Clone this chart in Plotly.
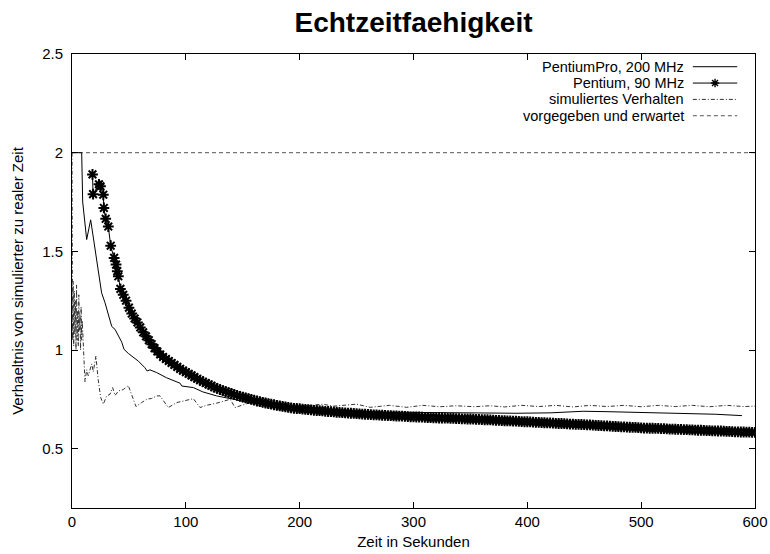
import plotly.graph_objects as go

# ---- data ----
pro_x = [0, 8.5, 9.4, 12.9, 16.4, 20.2, 24, 26, 29, 33.4, 34.9, 37.8, 43.7, 45.7, 49.5, 58.3, 64, 66,
         68.5, 74.4, 80.2, 83, 95, 96.4, 106.6, 115, 127, 139, 150, 160, 175, 190, 205, 220, 235, 250,
         265, 280, 303, 330, 360, 390, 420, 435, 449, 470, 508, 540, 565, 588.5]
pro_y = [2.0, 2.0, 1.75, 1.56, 1.66, 1.51, 1.35, 1.29, 1.24, 1.155, 1.12, 1.105, 1.04, 1.004, 0.983, 0.944,
         0.911, 0.894, 0.90, 0.886, 0.869, 0.86, 0.832, 0.818, 0.81, 0.788, 0.768, 0.755, 0.74, 0.73, 0.72,
         0.71, 0.702, 0.697, 0.692, 0.689, 0.686, 0.685, 0.684, 0.682, 0.68, 0.68, 0.682, 0.686, 0.69, 0.688,
         0.684, 0.68, 0.675, 0.668]

# Pentium 90 MHz: sparse start, then one sample every 2.5 s from 42.5 s
pen_x_start = [18, 18.5, 23.7, 25, 27.5, 28, 29.6, 31.9, 34, 37, 38.7, 39.8, 40.7]
pen_y_start = [1.89, 1.79, 1.84, 1.83, 1.787, 1.72, 1.665, 1.626, 1.529, 1.467, 1.433, 1.40, 1.374]
pen_y_dense = [
    1.31, 1.28, 1.25, 1.215, 1.185, 1.16, 1.14, 1.115, 1.09, 1.07,
    1.05, 1.03, 1.01, 0.993, 0.978, 0.965, 0.955, 0.945, 0.935, 0.925,
    0.915, 0.905, 0.896, 0.888, 0.88, 0.872, 0.863, 0.855, 0.847, 0.84,
    0.833, 0.826, 0.819, 0.812, 0.806, 0.80, 0.795, 0.79, 0.785, 0.78,
    0.775, 0.771, 0.766, 0.762, 0.758, 0.754, 0.75, 0.746, 0.742, 0.739,
    0.735, 0.732, 0.729, 0.726, 0.723, 0.72, 0.717, 0.715, 0.712, 0.71,
    0.707, 0.705, 0.704, 0.703,
    0.701, 0.700, 0.698, 0.697, 0.695, 0.694, 0.693, 0.692, 0.690, 0.689,
    0.688, 0.687, 0.685, 0.684, 0.683, 0.682, 0.681, 0.680, 0.679, 0.678,
    0.677, 0.676, 0.675, 0.674, 0.673, 0.672, 0.672, 0.671, 0.670, 0.669,
    0.668, 0.668, 0.667, 0.666, 0.665, 0.665, 0.664, 0.663, 0.662, 0.662,
    0.661, 0.661, 0.660, 0.659, 0.658, 0.658, 0.657, 0.657, 0.656, 0.656,
    0.655, 0.655, 0.654, 0.654, 0.653, 0.653, 0.652, 0.652, 0.651, 0.651,
    0.650, 0.649, 0.649, 0.648, 0.647, 0.647, 0.646, 0.645, 0.644, 0.644,
    0.643, 0.642, 0.641, 0.641, 0.640, 0.640, 0.639, 0.638, 0.637, 0.637,
    0.636, 0.635, 0.634, 0.634, 0.633, 0.632, 0.631, 0.631, 0.630, 0.629,
    0.628, 0.628, 0.627, 0.626, 0.625, 0.625, 0.624, 0.624, 0.623, 0.622,
    0.621, 0.621, 0.620, 0.619, 0.618, 0.617, 0.616, 0.616, 0.615, 0.614,
    0.613, 0.612, 0.611, 0.611, 0.610, 0.609, 0.608, 0.608, 0.607, 0.606,
    0.605, 0.605, 0.604, 0.604, 0.603, 0.603, 0.602, 0.602, 0.601, 0.600,
    0.600, 0.599, 0.598, 0.598, 0.597, 0.597, 0.596, 0.596, 0.595, 0.594,
    0.594, 0.593, 0.592, 0.592, 0.591, 0.591, 0.590, 0.590, 0.589, 0.588,
    0.588, 0.587, 0.586, 0.586, 0.585, 0.585, 0.584, 0.584, 0.583, 0.583,
]
pen_x_dense = [42.5 + 2.5 * i for i in range(len(pen_y_dense))]
pen_x = pen_x_start + pen_x_dense
pen_y = pen_y_start + pen_y_dense

sim_x = [0, 0.5, 1, 1.5, 2, 2.5, 3, 3.5, 4, 4.5, 5, 5.5, 6, 6.5, 7, 7.5, 8, 8.5, 9, 9.5, 10,
         11.4, 12.9, 14.3, 17.3, 18.7, 21, 23, 25.2, 27.5, 30.5, 33.4, 35.7, 37.8, 40.8, 45, 49.5, 56.2,
         61.2, 65.6, 70, 74.4, 77.3, 84.6, 92, 100, 106.6, 112.5, 118, 127, 139, 143.2, 150, 156.4, 166,
         175, 185, 195, 205, 220, 230, 240, 250, 262, 279, 294, 308, 323, 337, 354, 367, 380, 395, 410,
         425, 440, 455, 470, 485, 500, 515, 530, 545, 560, 575, 590, 600]
sim_y = [2.0, 1.05, 1.35, 1.02, 1.3, 1.08, 1.25, 1.0, 1.33, 1.05, 1.2, 1.02, 1.28, 1.1, 1.18, 1.0, 1.22,
         1.05, 1.15, 1.08, 1.0,
         0.84, 0.90, 0.87, 0.93, 0.89, 0.97, 0.85, 0.76, 0.726, 0.768, 0.776, 0.81, 0.77, 0.793, 0.80, 0.82,
         0.714, 0.734, 0.751, 0.755, 0.768, 0.768, 0.709, 0.734, 0.745, 0.754, 0.709, 0.72, 0.731, 0.751,
         0.709, 0.72, 0.734, 0.745, 0.71, 0.705, 0.71, 0.715, 0.726, 0.716, 0.722, 0.726, 0.71, 0.72, 0.71,
         0.72, 0.713, 0.718, 0.713, 0.718, 0.712, 0.72, 0.714, 0.72, 0.712, 0.72, 0.714, 0.72, 0.713, 0.72,
         0.714, 0.72, 0.713, 0.72, 0.714, 0.716]

ref_x = [0, 600]
ref_y = [2.0, 2.0]

labels = ["PentiumPro, 200 MHz", "Pentium, 90 MHz", "simuliertes Verhalten", "vorgegeben und erwartet"]

FONT = "Liberation Sans, Arial, sans-serif"
FS = 15
LEG_FS = 14.5
SIM_DASH = "4px,2px,1px,2px"
REF_DASH = "4px,3px"

fig = go.Figure()
fig.add_trace(go.Scatter(x=ref_x, y=ref_y, mode="lines",
                         line=dict(color="#555555", width=1, dash=REF_DASH), showlegend=False))
fig.add_trace(go.Scatter(x=sim_x, y=sim_y, mode="lines",
                         line=dict(color="#333333", width=1, dash=SIM_DASH), showlegend=False))
fig.add_trace(go.Scatter(x=pro_x, y=pro_y, mode="lines",
                         line=dict(color="black", width=1), showlegend=False))
fig.add_trace(go.Scatter(x=pen_x, y=pen_y, mode="lines+markers",
                         line=dict(color="black", width=1),
                         marker=dict(symbol="asterisk-open", size=9, color="black",
                                     line=dict(color="black", width=2)),
                         showlegend=False))

# ---- custom legend (text left of sample, as in the original) ----
leg_rows = [0.972, 0.936, 0.900, 0.864]
x0, x1 = 0.909, 0.974
styles = [dict(color="black", width=1), dict(color="black", width=1),
          dict(color="#333333", width=1, dash=SIM_DASH), dict(color="#555555", width=1, dash=REF_DASH)]
for i, (lab, yy) in enumerate(zip(labels, leg_rows)):
    fig.add_trace(go.Scatter(x=[x0, x1], y=[yy, yy], xaxis="x2", yaxis="y2", mode="lines",
                             line=styles[i], showlegend=False, hoverinfo="skip"))
    fig.add_annotation(x=0.897, y=yy, xref="x2", yref="y2", text=lab, showarrow=False,
                       xanchor="right", yanchor="middle", borderpad=0,
                       font=dict(family=FONT, size=LEG_FS, color="black"))
fig.add_trace(go.Scatter(x=[(x0 + x1) / 2], y=[leg_rows[1]], xaxis="x2", yaxis="y2", mode="markers",
                         marker=dict(symbol="asterisk-open", size=7, color="black",
                                     line=dict(color="black", width=1.4)),
                         showlegend=False, hoverinfo="skip"))

axis_common = dict(showline=True, linecolor="black", linewidth=1, mirror="ticks", ticks="inside",
                   ticklen=6, tickcolor="black", showgrid=False, zeroline=False, automargin=False,
                   tickfont=dict(family=FONT, size=FS, color="black"))

fig.update_layout(
    width=770, height=554,
    margin=dict(l=72, r=15, t=54, b=46),
    paper_bgcolor="white", plot_bgcolor="white",
    title=dict(text="<b>Echtzeitfaehigkeit</b>", x=0.537, xanchor="center", y=0.96, yanchor="middle",
               font=dict(family=FONT, size=28, color="black")),
    xaxis=dict(range=[0, 600], tick0=0, dtick=100, ticklabelstandoff=0,
               title=dict(text="Zeit in Sekunden", font=dict(family=FONT, size=FS, color="black"), standoff=7),
               **axis_common),
    yaxis=dict(range=[0.2, 2.5], tick0=0.5, dtick=0.5, ticklabelstandoff=5,
               title=dict(text="Verhaeltnis von simulierter zu realer Zeit",
                          font=dict(family=FONT, size=FS, color="black"), standoff=14),
               **axis_common),
    xaxis2=dict(range=[0, 1], overlaying="x", visible=False, fixedrange=True),
    yaxis2=dict(range=[0, 1], overlaying="y", visible=False, fixedrange=True),
    showlegend=False,
)

fig.write_html("out.html", config={"displayModeBar": False},
               post_script="document.body.style.margin='0px';")
